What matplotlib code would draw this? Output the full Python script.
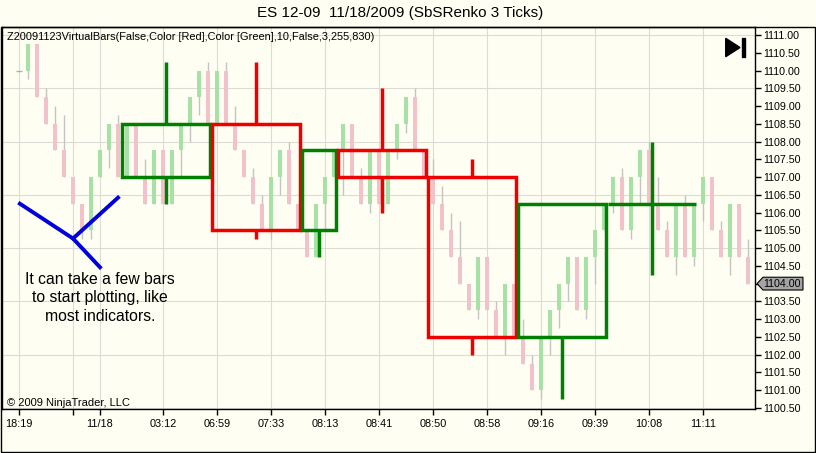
import matplotlib
matplotlib.use("Agg")
import matplotlib.pyplot as plt
import numpy as np
from matplotlib.patches import Rectangle, Polygon
from matplotlib.transforms import blended_transform_factory

plt.rcParams['font.family'] = ['Liberation Sans', 'DejaVu Sans']

# renko bars (3 ticks), one per index
opens = [1110.0, 1110.0, 1110.75, 1109.25, 1108.5, 1107.75, 1107.0, 1106.25, 1105.5, 1107.0,
         1107.75, 1108.5, 1107.0, 1108.5, 1107.0, 1106.25, 1107.75, 1106.25, 1107.75, 1108.5,
         1109.25, 1110.0, 1108.5, 1110.0, 1108.5, 1107.75, 1107.0, 1106.25, 1105.5, 1107.0,
         1107.75, 1106.25, 1105.5, 1104.75, 1106.25, 1107.0, 1107.75, 1108.5, 1107.0, 1106.25,
         1107.75, 1106.25, 1107.75, 1108.5, 1109.25, 1107.75, 1107.0, 1106.25, 1105.5, 1104.75,
         1104.0, 1103.25, 1104.75, 1103.25, 1102.5, 1104.0, 1102.5, 1101.75, 1101.0, 1102.5,
         1103.25, 1104.0, 1104.75, 1103.25, 1104.75, 1105.5, 1106.25, 1107.0, 1105.5, 1107.0,
         1107.75, 1106.25, 1105.5, 1104.75, 1106.25, 1104.75, 1106.25, 1107.0, 1105.5, 1104.75,
         1106.25, 1104.75]
closes = [1110.0, 1110.75, 1109.25, 1108.5, 1107.75, 1107.0, 1106.25, 1105.5, 1107.0, 1107.75,
          1108.5, 1107.0, 1108.5, 1107.0, 1106.25, 1107.75, 1106.25, 1107.75, 1108.5, 1109.25,
          1110.0, 1108.5, 1110.0, 1108.5, 1107.75, 1107.0, 1106.25, 1105.5, 1107.0, 1107.75,
          1106.25, 1105.5, 1104.75, 1106.25, 1107.0, 1107.75, 1108.5, 1107.0, 1106.25, 1107.75,
          1106.25, 1107.75, 1108.5, 1109.25, 1107.75, 1107.0, 1106.25, 1105.5, 1104.75, 1104.0,
          1103.25, 1104.75, 1103.25, 1102.5, 1104.0, 1102.5, 1101.75, 1101.0, 1102.5, 1103.25,
          1104.0, 1104.75, 1103.25, 1104.75, 1105.5, 1106.25, 1107.0, 1105.5, 1107.0, 1107.75,
          1106.25, 1105.5, 1104.75, 1106.25, 1104.75, 1106.25, 1107.0, 1105.5, 1104.75, 1106.25,
          1104.75, 1104.0]
highs = [1110.0, 1110.75, 1110.75, 1109.5, 1109.0, 1108.75, 1107.0, 1106.25, 1107.0, 1107.75,
         1108.5, 1108.75, 1108.5, 1108.5, 1107.5, 1107.75, 1107.75, 1107.75, 1108.5, 1109.25,
         1110.0, 1110.25, 1110.0, 1110.25, 1109.0, 1107.75, 1107.25, 1106.5, 1107.0, 1107.75,
         1108.0, 1106.25, 1105.5, 1106.25, 1107.0, 1107.75, 1108.5, 1108.5, 1107.25, 1107.75,
         1107.75, 1107.75, 1108.5, 1109.25, 1109.5, 1107.75, 1107.5, 1106.75, 1106.0, 1105.75,
         1104.0, 1104.75, 1104.75, 1103.5, 1104.0, 1104.0, 1103.0, 1102.0, 1102.5, 1103.25,
         1104.0, 1104.75, 1104.75, 1104.75, 1105.5, 1106.25, 1107.0, 1107.25, 1107.0, 1107.75,
         1108.0, 1107.0, 1105.75, 1106.25, 1106.5, 1106.25, 1107.0, 1107.0, 1105.75, 1106.25,
         1106.25, 1105.25]
lows = [1110.0, 1109.75, 1109.25, 1108.5, 1107.75, 1107.0, 1106.25, 1105.25, 1105.25, 1107.0,
        1107.25, 1107.0, 1107.0, 1107.0, 1106.25, 1106.25, 1106.25, 1106.25, 1107.0, 1108.0,
        1108.75, 1108.5, 1108.5, 1108.5, 1107.75, 1107.0, 1106.25, 1105.5, 1105.25, 1106.5,
        1106.25, 1105.5, 1104.75, 1104.75, 1105.5, 1107.0, 1106.5, 1107.0, 1106.25, 1106.0,
        1106.25, 1106.25, 1107.5, 1108.25, 1107.75, 1107.0, 1106.25, 1105.5, 1104.75, 1104.0,
        1103.25, 1103.0, 1103.25, 1102.5, 1102.0, 1102.5, 1101.75, 1101.0, 1100.75, 1102.0,
        1102.75, 1103.5, 1103.25, 1103.0, 1104.0, 1105.5, 1106.0, 1105.5, 1105.25, 1106.25,
        1106.25, 1105.5, 1104.75, 1104.25, 1104.75, 1104.5, 1105.75, 1105.5, 1104.75, 1104.25,
        1104.75, 1104.0]

# virtual bars (10 bars each)
box_first = [12, 22, 32, 36, 46, 56, 66]
box_last = [21, 31, 35, 45, 55, 65, 75]
box_open = [1107.0, 1108.5, 1105.5, 1107.75, 1107.0, 1102.5, 1106.25]
box_close = [1108.5, 1105.5, 1107.75, 1107.0, 1102.5, 1106.25, 1106.25]
box_high = [1110.25, 1110.25, 1107.75, 1109.5, 1107.5, 1106.25, 1108.0]
box_low = [1106.25, 1105.25, 1104.75, 1106.0, 1102.0, 1100.75, 1104.25]

tick_pos = [0, 6, 9, 16, 22, 28, 34, 40, 46, 52, 58, 64, 70, 76]
tick_lbl = ['18:19', '', '11/18', '03:12', '06:59', '07:33', '08:13', '08:41',
            '08:50', '08:58', '09:16', '09:39', '10:08', '11:11']

bg = '#fefef2'
up_col = '#a6e1a6'
dn_col = '#f2c1ca'
wick_col = '#c4c4c4'

W, H = 816, 453
fig = plt.figure(figsize=(W / 100, H / 100), dpi=100, facecolor=bg)
ax = fig.add_axes([2 / W, (H - 409) / H, 753 / W, 382 / H], facecolor=bg)

x = np.arange(len(opens))
o = np.array(opens)
c = np.array(closes)

# grid
for lv in np.arange(1100.5, 1111.1, 1.5):
    ax.axhline(lv, color='#dcdcd6', lw=0.8, zorder=0)
for tp in tick_pos:
    ax.axvline(tp, color='#dcdcd6', lw=0.8, zorder=0)

# candles
ax.vlines(x, lows, highs, color=wick_col, lw=1, zorder=1)
up = c > o
dn = c < o
ax.bar(x[up], (c - o)[up], bottom=o[up], width=0.55, color=up_col, zorder=2)
ax.bar(x[dn], (c - o)[dn], bottom=o[dn], width=0.55, color=dn_col, zorder=2)
flat = c == o
ax.hlines(o[flat], x[flat] - 0.3, x[flat] + 0.3, color='#b0b0b0', lw=1, zorder=2)

# virtual bars
for f, l, bo, bc, bh, bl in zip(box_first, box_last, box_open, box_close, box_high, box_low):
    col = '#008000' if bc >= bo else '#ee0000'
    left = f - 0.6
    right = l + 0.2
    mid = (left + right) / 2
    top = max(bo, bc)
    bot = min(bo, bc)
    ax.add_patch(Rectangle((left, bot), right - left, top - bot, fill=False,
                           edgecolor=col, lw=2.5, joinstyle='miter', zorder=4))
    if bh > top:
        ax.plot([mid, mid], [top, bh], color=col, lw=2.5, solid_capstyle='butt', zorder=4)
    if bl < bot:
        ax.plot([mid, mid], [bl, bot], color=col, lw=2.5, solid_capstyle='butt', zorder=4)

ax.set_xlim(-1.89, 81.78)
ax.set_ylim(1100.47, 1111.225)

ax.yaxis.tick_right()
yt = np.arange(1100.5, 1111.01, 0.5)
ax.set_yticks(yt)
ax.set_yticklabels(['%.2f' % v for v in yt])
ax.set_xticks(tick_pos)
ax.set_xticklabels(tick_lbl)
ax.tick_params(axis='y', direction='out', length=4, width=1, pad=2, labelsize=7.7, colors='black')
ax.tick_params(axis='x', direction='out', length=4, width=1, pad=3, labelsize=7.8, colors='black')
for s in ax.spines.values():
    s.set_color('black')
    s.set_linewidth(1)

# annotation
ax.plot([0.1, 6.0, 11.0], [1106.25, 1105.27, 1106.42], color='#0000dd', lw=2.8, zorder=5,
        solid_joinstyle='miter')
ax.plot([6.0, 9.0], [1105.27, 1104.46], color='#0000dd', lw=2.8, zorder=5)
ax.text(9.0, 1103.6, 'It can take a few bars\nto start plotting, like\nmost indicators.',
        ha='center', va='center', fontsize=11.3, linespacing=1.3, zorder=6)

ax.text(0.0066, 0.974,
        'Z20091123VirtualBars(False,Color [Red],Color [Green],10,False,3,255,830)',
        transform=ax.transAxes, ha='left', va='center', fontsize=7.9, zorder=6)
ax.text(0.0066, 0.016, '\u00a9 2009 NinjaTrader, LLC', transform=ax.transAxes,
        ha='left', va='center', fontsize=8, zorder=6)

# play icon
ax.add_patch(Polygon([(0.9611, 0.9704), (0.9611, 0.9223), (0.9801, 0.9463)],
                     closed=True, color='black', transform=ax.transAxes, zorder=6))
ax.add_patch(Rectangle((0.9823, 0.9223), 0.0044, 0.0481, color='black',
                       transform=ax.transAxes, zorder=6))

# last price marker
last = closes[-1]
bt = blended_transform_factory(ax.transAxes, ax.transData)
hh = 0.18
ax.add_patch(Polygon([(1.0027, last), (1.0106, last + hh), (1.0637, last + hh),
                      (1.0637, last - hh), (1.0106, last - hh)], closed=True,
                     facecolor='#a4a4a4', edgecolor='black', lw=0.8,
                     transform=bt, clip_on=False, zorder=7))
ax.text(1.0115, last, '%.2f' % last, transform=bt, ha='left', va='center',
        fontsize=7.7, zorder=8, clip_on=False)

# outer frame and title
fig.add_artist(Rectangle((1 / W, 1 / H), 814 / W, (452 - 27) / H, fill=False,
                         edgecolor='black', lw=1, transform=fig.transFigure))
fig.text(0.49, 1 - 13 / H, 'ES 12-09  11/18/2009 (SbSRenko 3 Ticks)',
         ha='center', va='center', fontsize=11)

fig.savefig('out.png', dpi=100, facecolor=bg)
